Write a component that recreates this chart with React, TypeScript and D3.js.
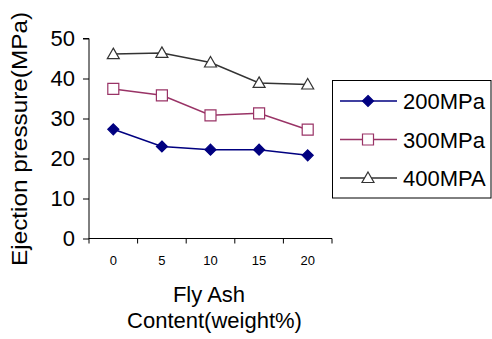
import React, { useRef, useEffect } from 'react';
import * as d3 from 'd3';

const categories = ['0', '5', '10', '15', '20'];
const series200 = [27.3, 23.0, 22.2, 22.2, 20.8];
const series300 = [37.4, 35.8, 30.8, 31.3, 27.2];
const series400 = [46.1, 46.4, 44.0, 38.9, 38.5];
const seriesNames = ['200MPa', '300MPa', '400MPA'];
const yTicks = [0, 10, 20, 30, 40, 50];

const FONT = '"Liberation Sans", Arial, sans-serif';

// marker path generators, centred on 0,0
const markerPath = (kind: string) => {
  if (kind === 'diamond') return 'M0,-5.5L5.5,0L0,5.5L-5.5,0Z';
  if (kind === 'square') return 'M-5.5,-5.5H5.5V5.5H-5.5Z';
  return 'M0,-6L6,4.5H-6Z';
};

const Chart = () => {
  const ref = useRef<SVGSVGElement>(null);

  useEffect(() => {
    if (!ref.current) return;
    const svg = d3.select(ref.current);
    svg.selectAll('*').remove();

    const x = d3.scaleBand().domain(categories).range([89, 332]).padding(0);
    const y = d3.scaleLinear().domain([0, 50]).range([238.5, 38.5]);

    const series = [
      { name: seriesNames[0], values: series200, color: '#000080', marker: 'diamond', fill: '#000080' },
      { name: seriesNames[1], values: series300, color: '#993366', marker: 'square', fill: '#ffffff' },
      { name: seriesNames[2], values: series400, color: '#333333', marker: 'triangle', fill: '#ffffff' },
    ];

    // y axis
    const yAxis = svg.append('g').attr('transform', 'translate(89,0)')
      .call(d3.axisLeft(y).tickValues(yTicks).tickSize(6).tickPadding(8).tickFormat(d3.format('d')));
    yAxis.selectAll('text').attr('font-size', 22).attr('font-family', FONT).attr('fill', '#000');
    yAxis.selectAll('line, path').attr('stroke', '#000');
    yAxis.select('.domain').attr('d', `M-6,${y(50)}H0V${y(0) + 0.5}`);

    // x axis: ticks on category boundaries, labels at centres
    const bounds = [...categories.map(c => x(c) as number), 332];
    svg.append('line').attr('x1', 89).attr('x2', 332).attr('y1', y(0)).attr('y2', y(0))
      .attr('stroke', '#000');
    svg.append('g').selectAll('line').data(bounds).join('line')
      .attr('x1', d => d).attr('x2', d => d)
      .attr('y1', y(0)).attr('y2', y(0) + 5)
      .attr('stroke', '#000');
    svg.append('g').selectAll('text').data(categories).join('text')
      .attr('x', d => (x(d) as number) + x.bandwidth() / 2)
      .attr('y', 265)
      .attr('text-anchor', 'middle')
      .attr('font-size', 13).attr('font-family', FONT)
      .text(d => d);

    // lines and markers
    const line = d3.line<number>()
      .x((_, i) => (x(categories[i]) as number) + x.bandwidth() / 2)
      .y(d => y(d));

    series.forEach(s => {
      svg.append('path').datum(s.values)
        .attr('d', line)
        .attr('fill', 'none')
        .attr('stroke', s.color)
        .attr('stroke-width', 1.5);
      svg.append('g').selectAll('path').data(s.values).join('path')
        .attr('transform', (d, i) => `translate(${(x(categories[i]) as number) + x.bandwidth() / 2},${y(d)})`)
        .attr('d', markerPath(s.marker))
        .attr('fill', s.fill)
        .attr('stroke', s.color)
        .attr('stroke-width', 1.2);
    });

    // axis titles
    svg.append('text')
      .attr('transform', 'translate(27,139) rotate(-90)')
      .attr('text-anchor', 'middle')
      .attr('font-size', 22).attr('font-family', FONT)
      .attr('textLength', 254).attr('lengthAdjust', 'spacingAndGlyphs')
      .text('Ejection pressure(MPa)');
    svg.append('text')
      .attr('x', 209).attr('y', 301.5)
      .attr('text-anchor', 'middle')
      .attr('font-size', 22).attr('font-family', FONT)
      .text('Fly Ash');
    svg.append('text')
      .attr('x', 214.5).attr('y', 328)
      .attr('text-anchor', 'middle')
      .attr('font-size', 22).attr('font-family', FONT)
      .text('Content(weight%)');

    // legend
    const legend = svg.append('g');
    legend.append('rect')
      .attr('x', 332.5).attr('y', 80.5).attr('width', 158.5).attr('height', 117.5)
      .attr('fill', '#fff').attr('stroke', '#000');
    const rowY = d3.scalePoint<string>().domain(seriesNames).range([101, 178]);
    series.forEach(s => {
      const ry = rowY(s.name) as number;
      legend.append('line').attr('x1', 340).attr('x2', 397).attr('y1', ry).attr('y2', ry)
        .attr('stroke', s.color).attr('stroke-width', 1.5);
      legend.append('path').attr('transform', `translate(368,${ry})`)
        .attr('d', markerPath(s.marker))
        .attr('fill', s.fill).attr('stroke', s.color).attr('stroke-width', 1.2);
      legend.append('text').attr('x', 403).attr('y', ry + 8)
        .attr('font-size', 22).attr('font-family', FONT)
        .text(s.name);
    });
  }, []);

  return (
    <svg ref={ref} width={492} height={339}
      style={{ position: 'absolute', left: 0, top: 0, background: '#fff' }} />
  );
};

export default function App() {
  return <Chart />;
}
